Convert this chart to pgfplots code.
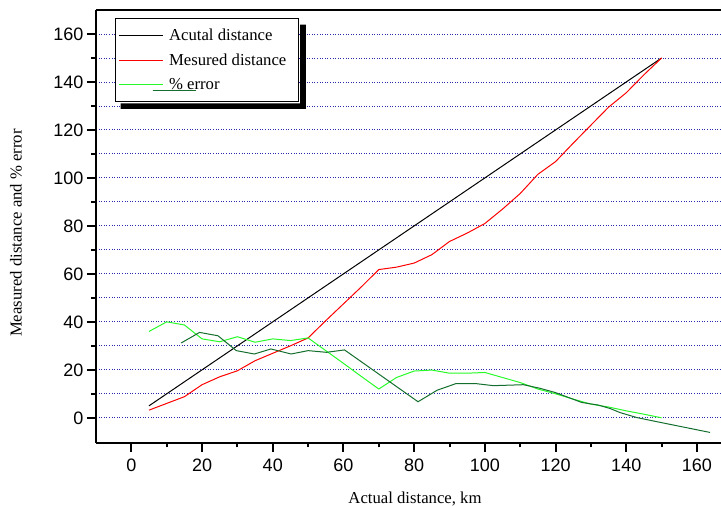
\documentclass[border=0pt]{standalone}
\usepackage{fontspec}
\setmainfont{Liberation Serif}
\newfontfamily\arialf{Liberation Sans}
\usepackage{pgfplots}
\pgfplotsset{compat=1.18}
\definecolor{dgreen}{RGB}{20,110,45}
\definecolor{lgreen}{RGB}{40,250,40}
\definecolor{gridblue}{RGB}{40,40,170}
\begin{document}
\begin{tikzpicture}
\useasboundingbox (-96pt,-63pt) rectangle (625pt,443pt);
\begin{axis}[
  at={(0pt,0pt)}, anchor=south west,
  scale only axis, width=625pt, height=433pt,
  xmin=-10, xmax=166.8, ymin=-10.5, ymax=170,
  axis x line=box, axis y line=left,
  axis line style={line width=2pt, -},
  xtick={0,20,...,160}, minor xtick={10,30,...,150},
  ytick={0,20,...,160}, minor ytick={10,30,...,150},
  xtick pos=bottom, ytick pos=left,
  tick align=outside,
  major tick length=9pt, minor tick length=4.5pt,
  every tick/.style={line width=2pt, black},
  ymajorgrids, yminorgrids,
  major grid style={gridblue, dash pattern=on 1pt off 1.6pt, line width=0.9pt},
  minor grid style={gridblue, dash pattern=on 1pt off 1.6pt, line width=0.9pt},
  tick label style={font=\arialf\fontsize{18}{18}\selectfont},
  xticklabel style={yshift=-3pt},
  /pgf/number format/assume math mode=true,
  xlabel={Actual distance, km},
  ylabel={Measured distance and \% error},
  label style={font=\fontsize{16.7}{20}\selectfont},
  xlabel style={at={(axis description cs:0.5104,-0.1386)}, anchor=base, inner sep=0pt},
  ylabel style={at={(axis description cs:-0.128,0.485)}, anchor=center, inner sep=0pt},
  legend style={at={(axis description cs:0.0305,0.9815)}, anchor=north west,
    draw=black, line width=1pt, fill=white,
    font=\fontsize{16.7}{20}\selectfont,
    inner xsep=3pt, inner ysep=8.2pt, row sep=6.3pt,
    nodes={inner sep=2.5pt},
    /tikz/every odd column/.append style={column sep=3pt}},
  legend cell align=left,
  legend image code/.code={\draw[#1] (0pt,0pt) -- (44pt,0pt);},
]
% legend shadow (L-shaped black bars)
\addplot[fill=black, draw=none, forget plot] coordinates {
(47.71,163.87) (49.40,163.87) (49.40,128.73) (-3.01,128.73) (-3.01,131.1) (47.71,131.1) (47.71,163.87)};
\addplot[draw=black, line width=1pt] coordinates {(5,5) (50,50) (100,100) (150,150)};
\addlegendentry{Acutal distance}
\addplot[draw=red, line width=1pt] coordinates {
(5,3.2) (10,6) (15,8.8) (20,13.8) (25,17.1) (30,19.6) (35,23.8) (40,26.9)
(45,30) (50,33.3) (55,40.5) (60,47.5) (65,54.5) (70,61.8) (75,62.8) (80,64.5)
(85,68) (90,73.5) (95,77) (100,81) (105,87) (110,93.5) (115,101.5) (120,106.8)
(125,114.5) (130,122) (135,129.5) (140,135.5) (145,143) (150,150)};
\addlegendentry{Mesured distance\hspace*{7pt}}
\addplot[draw=lgreen, line width=1pt] coordinates {
(5,36) (10,40) (15,38.7) (20,32.9) (25,31.7) (30,33.8) (35,31.5) (40,32.9)
(45,32.2) (50,33.3) (55,28) (60,22.7) (65,17.3) (70,12) (75,16.8) (80,19.5)
(85,19.9) (90,18.6) (95,18.6) (100,18.9) (105,16.8) (110,14.7) (115,12)
(120,10) (125,7.8) (130,5.7) (135,4.5) (140,2.9) (145,1.5) (150,0)};
\addlegendentry{\% error}
\addplot[draw=dgreen, line width=1pt, forget plot] coordinates {
(14.1,31.2) (19.3,35.6) (24.5,34.2) (29.7,28) (34.8,26.6) (39.5,28.7)
(45.2,26.6) (50,28) (55.2,27.3) (60.3,28.3) (81.1,6.7) (86.5,11.5)
(91.9,14.3) (97.2,14.3) (102.4,13.4) (110.9,13.8) (115.6,12.3) (120,10.5)
(127.4,6.4) (132.1,5.3) (135.4,3.9) (138.2,2.2) (143,0.1) (149.6,-1.9) (163.7,-6.1)};
\end{axis}
\begin{axis}[
  at={(0pt,0pt)}, anchor=south west,
  scale only axis, width=625pt, height=433pt,
  xmin=-10, xmax=166.8, ymin=-10.5, ymax=170,
  hide axis]
\addplot[draw=dgreen, line width=1pt] coordinates {(6.0,136.4) (18.4,136.4)};
\end{axis}
\end{tikzpicture}
\end{document}
